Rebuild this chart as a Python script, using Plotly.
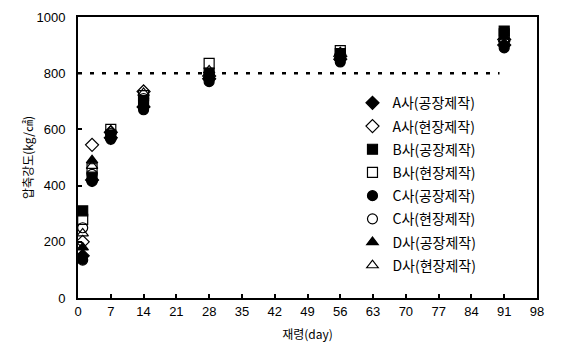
import plotly.graph_objects as go

days = [1, 3, 7, 14, 28, 56, 91]
series_names = ["A사(공장제작)", "A사(현장제작)", "B사(공장제작)", "B사(현장제작)",
                "C사(공장제작)", "C사(현장제작)", "D사(공장제작)", "D사(현장제작)"]
a_factory = [150, 420, 570, 680, 780, 850, 900]
a_site = [200, 545, 590, 735, 790, 860, 920]
b_factory = [310, 430, 580, 700, 800, 870, 950]
b_site = [280, 460, 600, 720, 835, 880, 940]
c_factory = [135, 415, 565, 670, 770, 840, 890]
c_site = [250, 440, 585, 710, 795, 865, 910]
d_factory = [180, 490, 575, 690, 785, 855, 930]
d_site = [230, 470, 595, 730, 810, 875, 920]
target_strength = 800
target_end_day = 90
x_ticks = list(range(0, 99, 7))
y_ticks = [0, 200, 400, 600, 800, 1000]

values = [a_factory, a_site, b_factory, b_site, c_factory, c_site, d_factory, d_site]
symbols = ["diamond", "diamond-open", "square", "square-open",
           "circle", "circle-open", "triangle-up", "triangle-up-open"]

fig = go.Figure()
for i, (name, vals, sym) in enumerate(zip(series_names, values, symbols)):
    fig.add_trace(go.Scatter(
        x=days, y=vals, mode="markers", name=name, legendgroup=f"g{i}",
        marker=dict(symbol=sym, size=10, color="black",
                    line=dict(color="black", width=1.2)),
    ))

fig.add_shape(type="line", xref="x", yref="y", x0=0, x1=target_end_day,
              y0=target_strength, y1=target_strength,
              line=dict(color="black", width=2.5, dash="4px,8px"))

axis_common = dict(showline=True, linecolor="black", linewidth=2, mirror=True,
                   ticks="inside", ticklen=4, tickcolor="black", tickwidth=1.5,
                   showgrid=False, zeroline=False, automargin=False,
                   tickfont=dict(family="Liberation Sans", size=13, color="black"))

fig.update_xaxes(range=[0, 98], tickvals=x_ticks,
                 title=dict(text="재령(day)", standoff=13,
                            font=dict(family="Noto Sans CJK KR", size=12, color="black")),
                 **axis_common)
fig.update_yaxes(range=[0, 1000], tickvals=y_ticks, ticklabelstandoff=8,
                 title=dict(text="압축강도(kg/㎠)", standoff=0,
                            font=dict(family="Noto Sans CJK KR", size=12, color="black")),
                 **axis_common)

fig.update_layout(
    width=561, height=345,
    margin=dict(l=70, r=32, t=9, b=55),
    paper_bgcolor="white", plot_bgcolor="white",
    showlegend=True,
    legend=dict(x=0.598, y=0.75, xanchor="left", yanchor="top",
                bgcolor="rgba(0,0,0,0)", borderwidth=0,
                font=dict(family="Noto Sans CJK KR", size=14, color="black"),
                itemwidth=30, tracegroupgap=2),
)

fig.write_html("out.html")
